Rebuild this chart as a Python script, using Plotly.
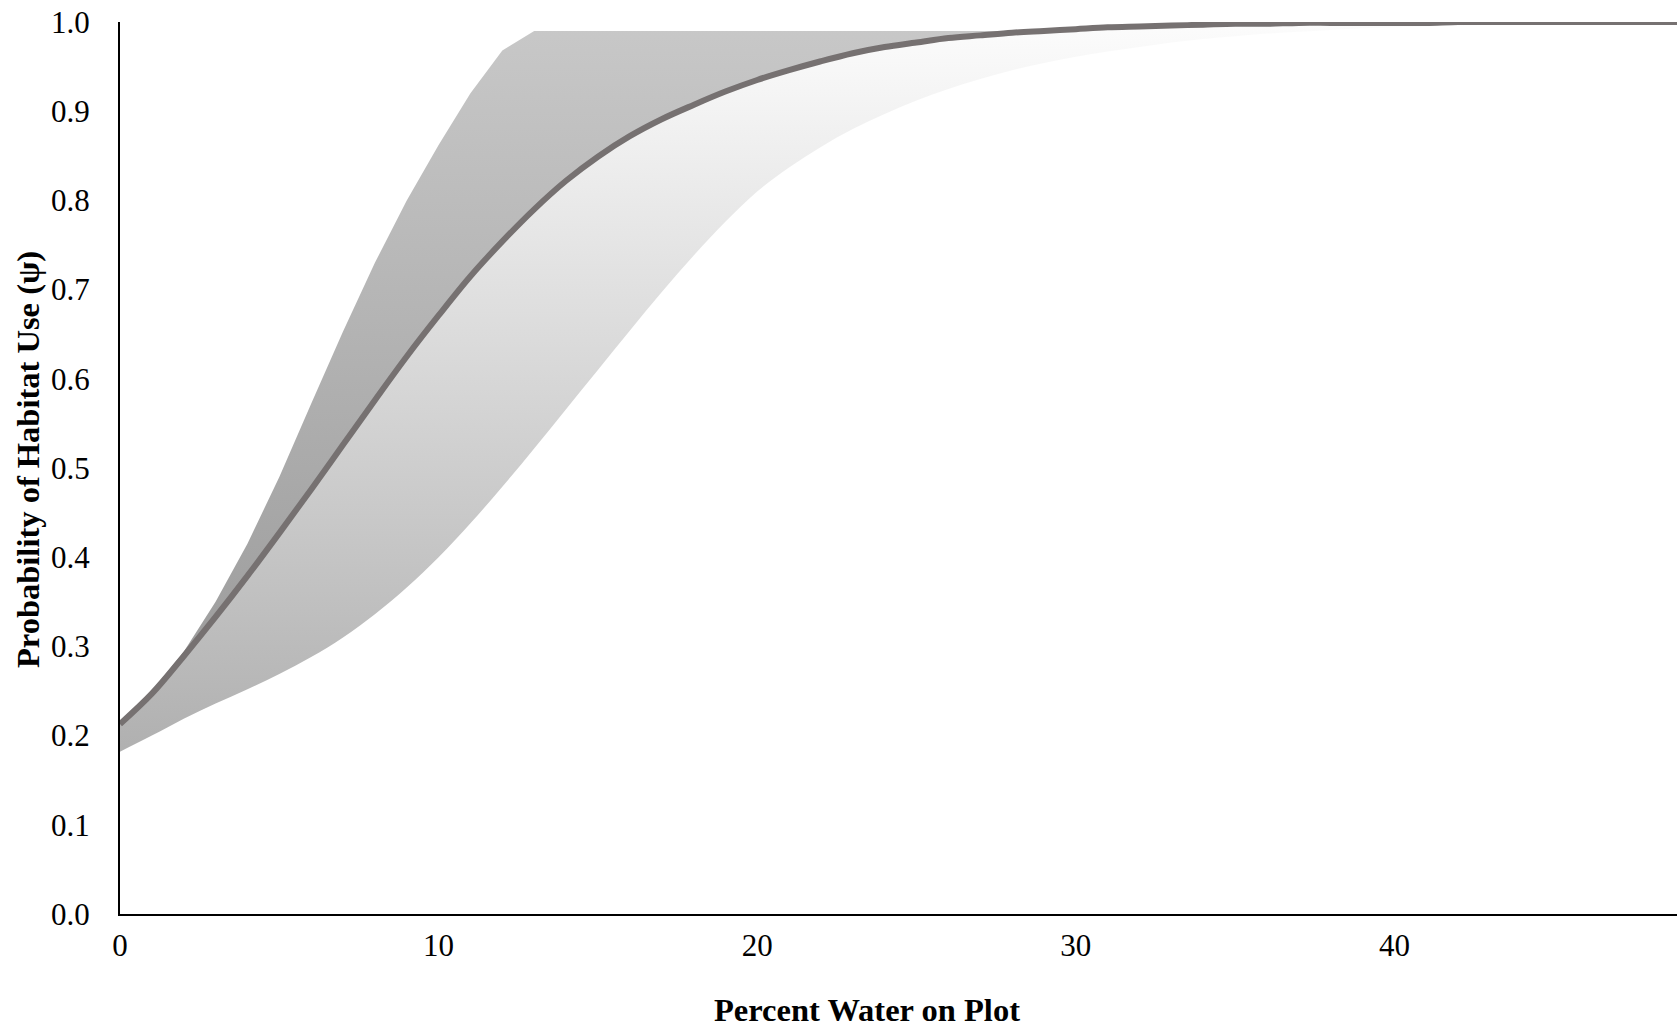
import plotly.graph_objects as go
import numpy as np

# Percent water on plot
water_pct = list(range(0, 51))

# Predicted probability of habitat use (mean)
psi_mean = [0.213, 0.247, 0.289, 0.333, 0.379, 0.427, 0.476, 0.526, 0.576, 0.625,
            0.671, 0.715, 0.754, 0.790, 0.822, 0.849, 0.872, 0.891, 0.907, 0.922,
            0.935, 0.946, 0.956, 0.965, 0.972, 0.977, 0.982, 0.985, 0.988, 0.990,
            0.992, 0.994, 0.995, 0.996, 0.997, 0.998, 0.998, 0.999, 0.999, 0.999,
            0.999, 0.999, 1.000, 1.000, 1.000, 1.000, 1.000, 1.000, 1.000, 1.000,
            1.000]

# Upper confidence limit
psi_upper = [0.216, 0.250, 0.294, 0.350, 0.415, 0.490, 0.572, 0.653, 0.730, 0.800,
             0.862, 0.920, 0.968, 0.990, 0.990, 0.990, 0.990, 0.990, 0.990, 0.990,
             0.990, 0.990, 0.990, 0.990, 0.990, 0.990, 0.990, 0.990, 0.990, 0.990,
             0.990, 0.990, 0.990, 0.990, 0.990, 0.990, 0.990, 0.990, 0.990, 0.990,
             0.990, 0.990, 0.990, 0.990, 0.990, 0.990, 0.990, 0.990, 0.990, 0.990,
             0.990]

# Lower confidence limit
psi_lower = [0.182, 0.200, 0.219, 0.236, 0.252, 0.269, 0.288, 0.310, 0.336, 0.366,
             0.400, 0.438, 0.479, 0.522, 0.566, 0.610, 0.654, 0.697, 0.738, 0.776,
             0.810, 0.837, 0.860, 0.880, 0.897, 0.912, 0.925, 0.936, 0.946, 0.954,
             0.961, 0.967, 0.972, 0.977, 0.981, 0.984, 0.987, 0.989, 0.991, 0.993,
             0.994, 0.995, 0.996, 0.997, 0.998, 0.998, 0.999, 0.999, 0.999, 0.999,
             0.999]

x_ticks = [0, 10, 20, 30, 40]
y_ticks = [0.0, 0.1, 0.2, 0.3, 0.4, 0.5, 0.6, 0.7, 0.8, 0.9, 1.0]
y_tick_text = [f"{v:.1f}" for v in y_ticks]

upper_fill = list(np.maximum(np.array(psi_upper), np.array(psi_mean)))

fig = go.Figure()
fig.add_trace(go.Scatter(x=water_pct, y=psi_lower, mode="lines",
                         line=dict(width=0, shape="spline", smoothing=1.0),
                         hoverinfo="skip", showlegend=False))
fig.add_trace(go.Scatter(x=water_pct, y=psi_mean, mode="lines",
                         line=dict(width=0, shape="spline", smoothing=1.0), fill="tonexty",
                         fillgradient=dict(type="vertical", start=0.18, stop=1.0,
                                           colorscale=[[0, "#b0b0b0"], [1, "#fcfcfc"]]),
                         hoverinfo="skip", showlegend=False))
fig.add_trace(go.Scatter(x=water_pct, y=upper_fill, mode="lines",
                         line=dict(width=0), fill="tonexty",
                         fillgradient=dict(type="vertical", start=0.2, stop=1.0,
                                           colorscale=[[0, "#989898"], [1, "#c8c8c8"]]),
                         hoverinfo="skip", showlegend=False))
fig.add_trace(go.Scatter(x=water_pct, y=psi_mean, mode="lines",
                         line=dict(color="#767171", width=6, shape="spline", smoothing=1.0),
                         showlegend=False))

font_family = "Liberation Serif, Times New Roman, serif"

fig.update_layout(
    width=1677, height=1028,
    margin=dict(l=120, r=0, t=22, b=114),
    paper_bgcolor="white", plot_bgcolor="white",
    font=dict(family=font_family, size=31, color="black"),
    xaxis=dict(range=[0, 48.87], tickvals=x_ticks, showgrid=False, zeroline=False,
               showline=True, linecolor="black", linewidth=2, ticks="",
               ticklabelstandoff=3, tickfont=dict(size=31)),
    yaxis=dict(range=[0, 1.0], tickvals=y_ticks, ticktext=y_tick_text, showgrid=False,
               zeroline=False, showline=True, linecolor="black", linewidth=2, ticks="",
               ticklabelstandoff=22, tickfont=dict(size=31)),
    annotations=[
        dict(text="<b>Percent Water on Plot</b>", xref="paper", yref="paper",
             x=(867 - 120) / (1677 - 120), y=-(1010 - 914) / 892, xanchor="center",
             yanchor="middle", showarrow=False, font=dict(size=32.5, family=font_family)),
        dict(text="<b>Probability of Habitat Use (ψ)</b>", xref="paper", yref="paper",
             x=-(120 - 28) / (1677 - 120), y=(914 - 460) / 892, xanchor="center",
             yanchor="middle", textangle=-90, showarrow=False,
             font=dict(size=32.5, family=font_family)),
    ],
)

fig.write_html("out.html")
